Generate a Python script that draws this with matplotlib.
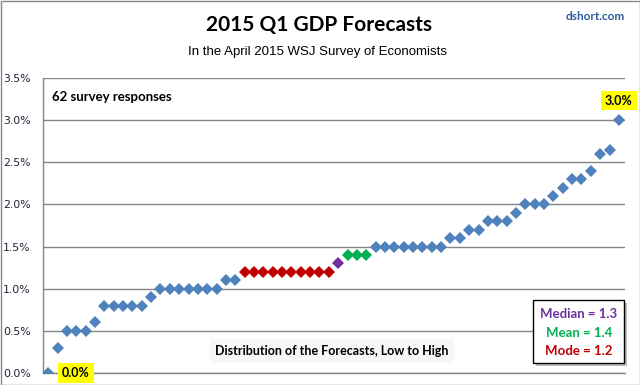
import matplotlib
matplotlib.use("Agg")
import matplotlib.pyplot as plt
from matplotlib.patches import Rectangle

# forecasts, sorted low to high (percent)
forecasts = [0.0, 0.3, 0.5, 0.5, 0.5, 0.6, 0.8, 0.8, 0.8, 0.8, 0.8, 0.9,
             1.0, 1.0, 1.0, 1.0, 1.0, 1.0, 1.0, 1.1, 1.1,
             1.2, 1.2, 1.2, 1.2, 1.2, 1.2, 1.2, 1.2, 1.2, 1.2,
             1.3, 1.4, 1.4, 1.4,
             1.5, 1.5, 1.5, 1.5, 1.5, 1.5, 1.5, 1.5, 1.6, 1.6, 1.7, 1.7,
             1.8, 1.8, 1.8, 1.9, 2.0, 2.0, 2.0, 2.1, 2.2, 2.3, 2.3, 2.4,
             2.6, 2.65, 3.0]
median_val = 1.3
mean_val = 1.4
mode_val = 1.2
yticks = [0.0, 0.5, 1.0, 1.5, 2.0, 2.5, 3.0, 3.5]

blue = "#4f81bd"
c_median = "#7030a0"
c_mean = "#00b050"
c_mode = "#c00000"

def pick_color(v):
    if abs(v - mode_val) < 1e-9:
        return c_mode
    if abs(v - median_val) < 1e-9:
        return c_median
    if abs(v - mean_val) < 1e-9:
        return c_mean
    return blue

xs = list(range(len(forecasts)))
colors = [pick_color(v) for v in forecasts]

fig = plt.figure(figsize=(6.4, 3.85), dpi=100)
ax = fig.add_axes([43/640, 12/385, 582/640, 295/385])

for x, y, c in zip(xs, forecasts, colors):
    ax.plot(x, y, marker="D", color=c, markersize=6, markeredgewidth=0, linestyle="none", zorder=3)

ax.set_xlim(-0.55, len(forecasts) - 0.35)
ax.set_ylim(0, 3.5)
ax.set_yticks(yticks)
ax.set_yticklabels(["%.1f%%" % t for t in yticks], fontsize=7.8, color="#20203a")
ax.set_xticks([])
ax.tick_params(axis="y", length=0, pad=9)
ax.grid(axis="y", color="#868686", linewidth=1)
ax.set_axisbelow(True)
for s in ["top", "right"]:
    ax.spines[s].set_visible(False)
for s in ["left", "bottom"]:
    ax.spines[s].set_color("#868686")
    ax.spines[s].set_linewidth(1)
ax.spines["bottom"].set_zorder(1)

# titles
fig.text(319/640, 1 - 25/385, "2015 Q1 GDP Forecasts", ha="center", va="center",
         fontsize=15, fontweight="bold", family="Lato")
fig.text(318/640, 1 - 52/385, "In the April 2015 WSJ Survey of Economists", ha="center",
         va="center", fontsize=9.5, family="Liberation Sans")
fig.text(625/640, 1 - 16/385, "dshort.com", ha="right", va="center", fontsize=8.5,
         fontweight="bold", color="#2e5c9e", family="Lato")

fig.text(52/640, 1 - 97/385, "62 survey responses", ha="left", va="center",
         fontsize=9.5, fontweight="bold", family="Lato")

fig.text(332/640, 1 - 351/385, "Distribution of the Forecasts, Low to High", ha="center",
         va="center", fontsize=9, fontweight="bold", family="Lato",
         bbox=dict(boxstyle="square,pad=0.45", facecolor="#f7f7f7", edgecolor="none"))

# min / max labels
ax.annotate("%.1f%%" % forecasts[0], xy=(xs[0], forecasts[0]), xytext=(20, 0),
            textcoords="offset points", ha="center", va="center", fontsize=9,
            fontweight="bold", family="Lato", annotation_clip=False,
            bbox=dict(boxstyle="square,pad=0.3", facecolor="#ffff00", edgecolor="none"))
ax.annotate("%.1f%%" % forecasts[-1], xy=(xs[-1], forecasts[-1]), xytext=(0, 14),
            textcoords="offset points", ha="center", va="center", fontsize=9,
            fontweight="bold", family="Lato", annotation_clip=False,
            bbox=dict(boxstyle="square,pad=0.3", facecolor="#ffff00", edgecolor="none"))

# stats box with shadow
fig.patches.append(Rectangle((536/640, 1 - 366/385), 91/640, 63/385, transform=fig.transFigure,
                             facecolor="#bbbbbb", edgecolor="none", zorder=4))
fig.patches.append(Rectangle((533/640, 1 - 363/385), 91/640, 63/385, transform=fig.transFigure,
                             facecolor="white", edgecolor="black", linewidth=1, zorder=5))
stats = [("Median = %.1f" % median_val, c_median, 314),
         ("Mean = %.1f" % mean_val, c_mean, 333),
         ("Mode = %.1f" % mode_val, c_mode, 351)]
for txt, c, ypix in stats:
    fig.text(579/640, 1 - ypix/385, txt, ha="center", va="center", fontsize=9.5,
             fontweight="bold", color=c, family="Lato", zorder=6)

# outer frame
fig.patches.append(Rectangle((0.5/640, 0.5/385), 639/640, 384/385, transform=fig.transFigure,
                             facecolor="none", edgecolor="#888888", linewidth=1))

fig.savefig("out.png", dpi=100)
